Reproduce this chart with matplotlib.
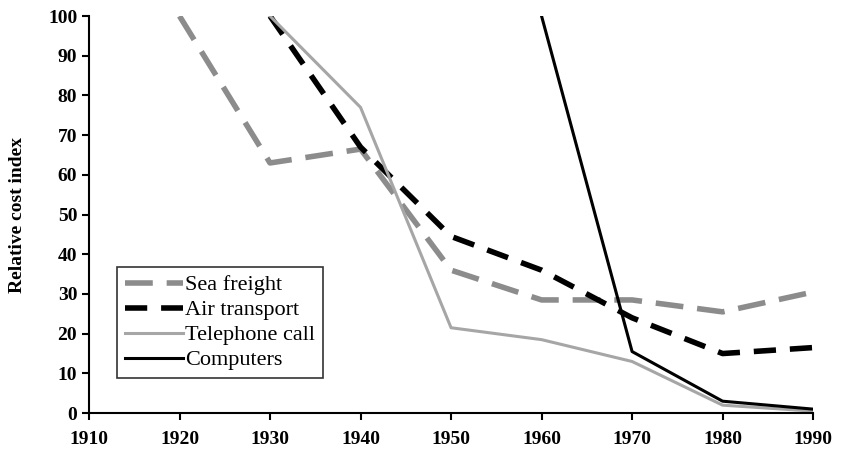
# Relative cost index of transport and communication
import matplotlib.pyplot as plt

years = [1920, 1930, 1940, 1950, 1960, 1970, 1980, 1990]
sea_freight = [100, 63, 66.5, 36, 28.5, 28.5, 25.5, 30.5]

air_years = [1930, 1940, 1950, 1960, 1970, 1980, 1990]
air_transport = [100, 67, 44.5, 36, 24, 15, 16.5]

tel_years = [1930, 1940, 1950, 1960, 1970, 1980, 1990]
telephone = [100, 77, 21.5, 18.5, 13, 2, 0.5]

comp_years = [1960, 1970, 1980, 1990]
computers = [100, 15.5, 3, 1]

xticks = list(range(1910, 2000, 10))
yticks = list(range(0, 110, 10))

plt.rcParams['font.family'] = ['Liberation Serif', 'DejaVu Serif']

fig = plt.figure(figsize=(8.42, 4.59), dpi=100)
ax = fig.add_axes([0.1057, 0.1, 0.86, 0.865])

ax.plot(years, sea_freight, color='#8c8c8c', lw=4, dashes=(5, 2.5), label='Sea freight')
ax.plot(air_years, air_transport, color='black', lw=4, dashes=(4, 2.5), label='Air transport')
ax.plot(tel_years, telephone, color='#a6a6a6', lw=2.2, label='Telephone call')
ax.plot(comp_years, computers, color='black', lw=2.2, label='Computers')

ax.set_xlim(1910, 1990)
ax.set_ylim(0, 100)
ax.set_xticks(xticks)
ax.set_yticks(yticks)
ax.tick_params(labelsize=14, width=1.5, length=5)
ax.tick_params(axis='x', pad=8)
for lab in ax.get_xticklabels() + ax.get_yticklabels():
    lab.set_fontweight('bold')
ax.spines['top'].set_visible(False)
ax.spines['right'].set_visible(False)
ax.spines['left'].set_linewidth(1.5)
ax.spines['bottom'].set_linewidth(1.5)
ax.set_ylabel('Relative cost index', fontsize=14, fontweight='bold', labelpad=16)

leg = ax.legend(loc='lower left', bbox_to_anchor=(0.039, 0.088), fontsize=16,
                frameon=True, fancybox=False, edgecolor='black', handlelength=2.6,
                handletextpad=0.1, borderpad=0.35, labelspacing=0.2, borderaxespad=0)
leg.get_frame().set_linewidth(1.2)

fig.savefig('out.png', dpi=100)
